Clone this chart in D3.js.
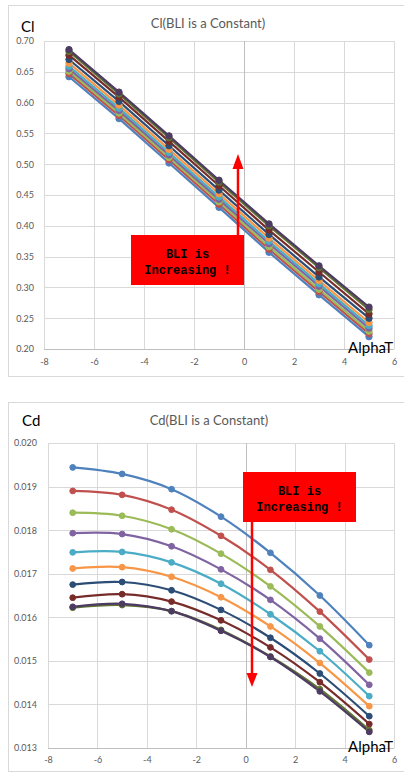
<!DOCTYPE html>
<html>
<head>
<meta charset="utf-8">
<script src="https://cdn.jsdelivr.net/npm/d3@7/dist/d3.min.js"></script>
<style>
  html, body { margin: 0; padding: 0; background: #fff; }
  svg { display: block; }
</style>
</head>
<body>
<svg id="chart" width="404" height="772"></svg>
<script>
// Angle of attack at which every BLI case was evaluated
const alphaT = [-7, -5, -3, -1, 1, 3, 5];

// Series colours (one per BLI level)
const seriesColors = ["#4F81BD", "#C0504D", "#9BBB59", "#8064A2", "#4BACC6",
                      "#F79646", "#2C4D75", "#772C2A", "#5F7530", "#4D3B62"];

// Lift coefficient, one array per BLI level (lowest BLI first)
const cl1  = [0.642, 0.574, 0.502, 0.430, 0.357, 0.288, 0.220];
const cl2  = [0.647, 0.579, 0.507, 0.435, 0.362, 0.293, 0.225];
const cl3  = [0.651, 0.583, 0.511, 0.439, 0.366, 0.297, 0.229];
const cl4  = [0.655, 0.587, 0.515, 0.443, 0.371, 0.302, 0.234];
const cl5  = [0.659, 0.591, 0.519, 0.447, 0.375, 0.306, 0.238];
const cl6  = [0.664, 0.596, 0.524, 0.452, 0.380, 0.311, 0.243];
const cl7  = [0.670, 0.602, 0.530, 0.458, 0.386, 0.317, 0.250];
const cl8  = [0.677, 0.609, 0.537, 0.465, 0.393, 0.325, 0.257];
const cl9  = [0.683, 0.614, 0.543, 0.471, 0.400, 0.332, 0.264];
const cl10 = [0.686, 0.617, 0.546, 0.474, 0.403, 0.335, 0.268];

// Drag coefficient, one array per BLI level (lowest BLI first)
const cd1  = [0.01944, 0.01929, 0.01894, 0.01831, 0.01748, 0.01650, 0.01536];
const cd2  = [0.01890, 0.01881, 0.01847, 0.01787, 0.01709, 0.01613, 0.01503];
const cd3  = [0.01840, 0.01833, 0.01802, 0.01746, 0.01671, 0.01579, 0.01473];
const cd4  = [0.01793, 0.01791, 0.01763, 0.01710, 0.01640, 0.01551, 0.01445];
const cd5  = [0.01749, 0.01750, 0.01726, 0.01677, 0.01607, 0.01522, 0.01419];
const cd6  = [0.01712, 0.01715, 0.01693, 0.01646, 0.01579, 0.01495, 0.01396];
const cd7  = [0.01675, 0.01681, 0.01662, 0.01617, 0.01553, 0.01471, 0.01373];
const cd8  = [0.01645, 0.01653, 0.01636, 0.01593, 0.01531, 0.01451, 0.01355];
const cd9  = [0.01622, 0.01628, 0.01614, 0.01571, 0.01510, 0.01435, 0.01341];
const cd10 = [0.01624, 0.01631, 0.01614, 0.01569, 0.01509, 0.01430, 0.01337];

const clSeries = [cl1, cl2, cl3, cl4, cl5, cl6, cl7, cl8, cl9, cl10];
const cdSeries = [cd1, cd2, cd3, cd4, cd5, cd6, cd7, cd8, cd9, cd10];

// Axis ticks
const xTicks  = [-8, -6, -4, -2, 0, 2, 4, 6];
const clTicks = [0.20, 0.25, 0.30, 0.35, 0.40, 0.45, 0.50, 0.55, 0.60, 0.65, 0.70];
const cdTicks = [0.013, 0.014, 0.015, 0.016, 0.017, 0.018, 0.019, 0.020];

const svg = d3.select("#chart");
const labelFont = "Lato, 'Open Sans', sans-serif";

function drawPanel(opt) {
  const g = svg.append("g");

  // chart frame
  g.append("rect")
    .attr("x", opt.frame[0] + 0.5).attr("y", opt.frame[1] + 0.5)
    .attr("width", opt.frame[2]).attr("height", opt.frame[3])
    .attr("fill", "#fff").attr("stroke", "#d9d9d9").attr("stroke-width", 1);

  const x = d3.scaleLinear().domain([-8, 6]).range([opt.plot.left, opt.plot.right]);
  const y = d3.scaleLinear().domain(opt.yDomain).range([opt.plot.bottom, opt.plot.top]);

  // horizontal grid + y labels
  const yAxis = g.append("g")
    .attr("transform", `translate(${opt.plot.left},0)`)
    .call(d3.axisLeft(y).tickValues(opt.yTicks).tickFormat(d3.format(opt.yFormat))
      .tickSize(-(opt.plot.right - opt.plot.left)).tickPadding(opt.yPad));
  // vertical grid + x labels
  const xAxis = g.append("g")
    .attr("transform", `translate(0,${opt.plot.bottom})`)
    .call(d3.axisBottom(x).tickValues(xTicks).tickFormat(d3.format("d"))
      .tickSize(-(opt.plot.bottom - opt.plot.top)).tickPadding(opt.xPad));

  [yAxis, xAxis].forEach(a => {
    a.select(".domain").remove();
    a.selectAll(".tick line").attr("stroke", "#d9d9d9").attr("stroke-width", 1)
      .attr("shape-rendering", "crispEdges");
    a.selectAll(".tick text").attr("fill", "#595959")
      .style("font-family", labelFont).style("font-size", "9px");
  });
  xAxis.selectAll(".tick text").text(d => d < 0 ? "-" + Math.abs(d) : d);

  // axis lines: the value axis crosses at AlphaT = 0
  g.append("line")
    .attr("x1", Math.round(x(0)) + 0.5).attr("x2", Math.round(x(0)) + 0.5)
    .attr("y1", opt.plot.top).attr("y2", opt.plot.bottom)
    .attr("stroke", "#bfbfbf").attr("stroke-width", 1);
  g.append("line")
    .attr("x1", opt.plot.left).attr("x2", opt.plot.right)
    .attr("y1", Math.round(opt.plot.bottom) + 0.5).attr("y2", Math.round(opt.plot.bottom) + 0.5)
    .attr("stroke", "#bfbfbf").attr("stroke-width", 1);

  // series lines and markers
  const line = d3.line()
    .x((d, i) => x(alphaT[i]))
    .y(d => y(d))
    .curve(opt.curve);

  opt.series.forEach((vals, si) => {
    const color = seriesColors[si];
    g.append("path")
      .attr("d", line(vals))
      .attr("fill", "none").attr("stroke", color).attr("stroke-width", 2.2)
      .attr("stroke-linejoin", "round");
  });
  opt.series.forEach((vals, si) => {
    const color = seriesColors[si];
    g.selectAll(null).data(vals).enter().append("circle")
      .attr("cx", (d, i) => x(alphaT[i])).attr("cy", d => y(d))
      .attr("r", opt.markerR).attr("fill", color).attr("stroke", color).attr("stroke-width", 1);
  });

  // titles
  g.append("text").attr("x", opt.titleX).attr("y", opt.titleY)
    .attr("text-anchor", "middle").attr("fill", "#595959")
    .style("font-family", labelFont).style("font-size", "13px").text(opt.title);
  g.append("text").attr("x", opt.yLabelX).attr("y", opt.yLabelY)
    .attr("fill", "#000").style("font-family", labelFont).style("font-size", "15px")
    .text(opt.yLabel);
  g.append("text").attr("x", opt.plot.right - 1).attr("y", opt.xLabelY)
    .attr("text-anchor", "end").attr("fill", "#000")
    .style("font-family", labelFont).style("font-size", "15px").text("AlphaT");

  // annotation: red box with arrow
  const b = opt.box;
  const arrowColor = "#ff0000";
  g.append("line")
    .attr("x1", b.arrowX).attr("x2", b.arrowX)
    .attr("y1", b.arrowFrom).attr("y2", b.arrowBase)
    .attr("stroke", arrowColor).attr("stroke-width", 2.5);
  g.append("path")
    .attr("d", `M${b.arrowX - 5.5},${b.arrowBase} L${b.arrowX + 5.5},${b.arrowBase} L${b.arrowX},${b.arrowTip} Z`)
    .attr("fill", arrowColor);
  g.append("rect").attr("x", b.x).attr("y", b.y).attr("width", b.w).attr("height", b.h)
    .attr("fill", "#ff0000");
  const boxText = g.append("text")
    .attr("text-anchor", "middle").attr("fill", "#000")
    .style("font-family", "'Liberation Mono', 'DejaVu Sans Mono', monospace")
    .style("font-size", "12px").style("font-weight", "bold");
  boxText.append("tspan").attr("x", b.x + b.w / 2).attr("y", b.y + 22.5).text("BLI is");
  boxText.append("tspan").attr("x", b.x + b.w / 2).attr("y", b.y + 39).text("Increasing !");
}

drawPanel({
  frame: [8, 5, 420, 371],
  plot: { left: 44, right: 394, top: 41, bottom: 349 },
  yDomain: [0.20, 0.70], yTicks: clTicks, yFormat: ".2f", yPad: 10, xPad: 10,
  series: clSeries, curve: d3.curveLinear, markerR: 3.2,
  title: "Cl(BLI is a Constant)", titleX: 208, titleY: 28,
  yLabel: "Cl", yLabelX: 21, yLabelY: 32, xLabelY: 353,
  box: { x: 131, y: 235, w: 113, h: 50, arrowX: 238, arrowFrom: 236, arrowBase: 169, arrowTip: 154 }
});

drawPanel({
  frame: [8, 402, 420, 369],
  plot: { left: 48, right: 394, top: 443, bottom: 748 },
  yDomain: [0.013, 0.020], yTicks: cdTicks, yFormat: ".3f", yPad: 11, xPad: 9,
  series: cdSeries, curve: d3.curveCatmullRom.alpha(0.5), markerR: 2.9,
  title: "Cd(BLI is a Constant)", titleX: 209, titleY: 425,
  yLabel: "Cd", yLabelX: 22, yLabelY: 426, xLabelY: 752,
  box: { x: 243, y: 472, w: 113, h: 50, arrowX: 252, arrowFrom: 521, arrowBase: 673, arrowTip: 687 }
});
</script>
</body>
</html>
